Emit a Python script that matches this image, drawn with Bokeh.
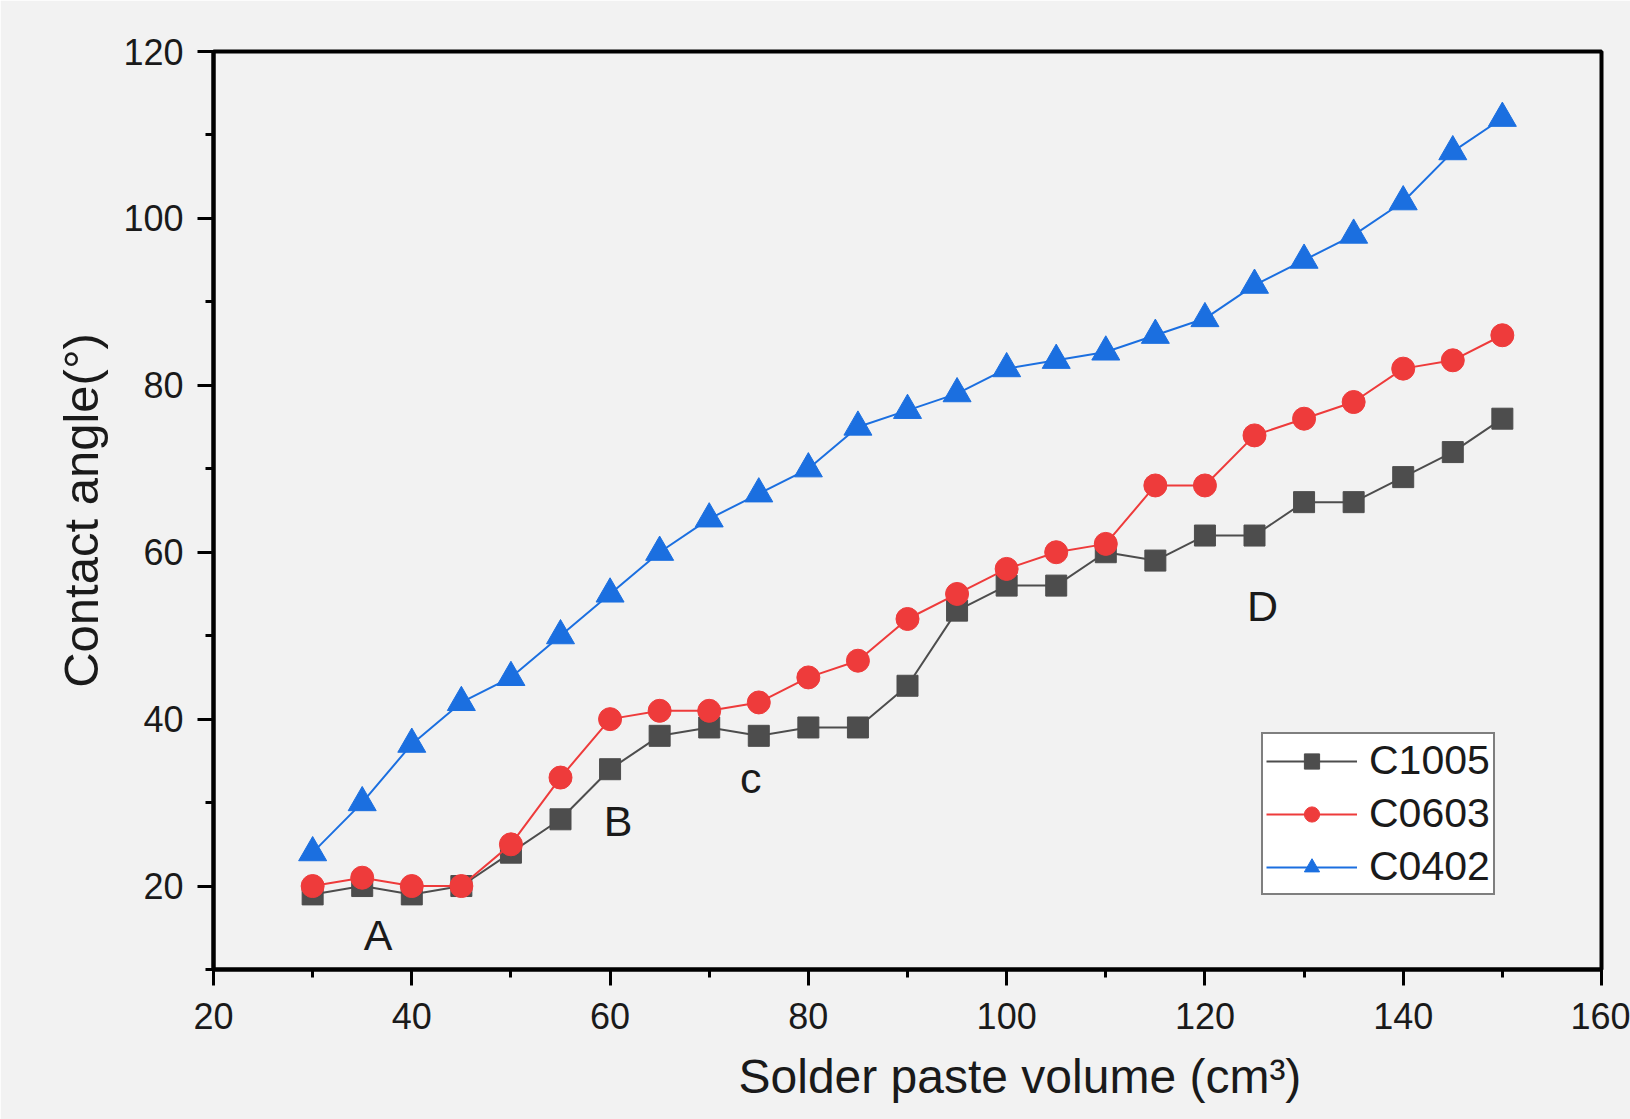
from bokeh.plotting import figure
from bokeh.models import SingleIntervalTicker, Legend, LegendItem, Range1d, ColumnDataSource, Title
from bokeh.core.properties import value
from bokeh.embed import file_html
from bokeh.resources import INLINE

# ---- data ----
volume = [30, 35, 40, 45, 50, 55, 60, 65, 70, 75, 80, 85, 90, 95, 100,
          105, 110, 115, 120, 125, 130, 135, 140, 145, 150]
c1005 = [19, 20, 19, 20, 24, 28, 34, 38, 39, 38, 39, 39, 44, 53, 56,
         56, 60, 59, 62, 62, 66, 66, 69, 72, 76]
c0603 = [20, 21, 20, 20, 25, 33, 40, 41, 41, 42, 45, 47, 52, 55, 58,
         60, 61, 68, 68, 74, 76, 78, 82, 83, 86]
c0402 = [24, 30, 37, 42, 45, 50, 55, 60, 64, 67, 70, 75, 77, 79, 82,
         83, 84, 86, 88, 92, 95, 98, 102, 108, 112]
series_names = ["C1005", "C0603", "C0402"]

region_labels = ["A", "B", "c", "D"]
region_x = [36.6, 60.8, 74.2, 125.8]
region_y = [14.1, 27.8, 33.0, 53.6]

x_title = "Solder paste volume (cm\u00b3)"
y_title = "Contact angle(\u00b0)"

# ---- styles ----
FONT = "Liberation Sans"
BG = "#f2f2f2"
TXT = "#1a1a1a"
colors = ["#4d4d4d", "#ee3b3b", "#1b6fe0"]
markers = ["square", "circle", "triangle"]
sizes = [21, 23, 28]

p = figure(width=1630, height=1119, output_backend="svg", toolbar_location=None,
           x_range=Range1d(20, 160), y_range=Range1d(10, 120),
           min_border_left=213, min_border_right=29,
           min_border_top=51, min_border_bottom=149)
p.background_fill_color = BG
p.border_fill_color = BG
p.outline_line_color = "black"
p.outline_line_width = 4
p.grid.visible = False

p.xaxis.ticker = SingleIntervalTicker(interval=20, num_minor_ticks=2)
p.yaxis.ticker = SingleIntervalTicker(interval=20, num_minor_ticks=2)
for ax in (p.xaxis, p.yaxis):
    ax.axis_line_width = 4
    ax.axis_line_color = "black"
    ax.major_tick_line_width = 3
    ax.minor_tick_line_width = 3
    ax.major_tick_out = 16
    ax.major_tick_in = 0
    ax.minor_tick_out = 8
    ax.minor_tick_in = 0
    ax.major_label_text_font = FONT
    ax.major_label_text_font_size = "36px"
    ax.major_label_text_color = TXT
p.xaxis.major_label_standoff = 17
p.yaxis.major_label_standoff = 14

p.yaxis.axis_label = y_title
p.yaxis.axis_label_text_font = FONT
p.yaxis.axis_label_text_font_size = "49px"
p.yaxis.axis_label_text_font_style = "normal"
p.yaxis.axis_label_text_color = TXT
p.yaxis.axis_label_standoff = 12

# x title sits right of centre in the reference
p.add_layout(Title(text=x_title, align="left", offset=525, standoff=33,
                   text_font=FONT, text_font_size="48px", text_font_style="normal",
                   text_color=TXT), "below")

items = []
for name, ys, col, mk, sz in zip(series_names, [c1005, c0603, c0402], colors, markers, sizes):
    src = ColumnDataSource(dict(x=volume, y=ys))
    ln = p.line("x", "y", source=src, line_color=col, line_width=2)
    sc = p.scatter("x", "y", source=src, marker=mk, size=sz, fill_color=col, line_color=col)
    items.append(LegendItem(label=name, renderers=[ln, sc]))

lab_src = ColumnDataSource(dict(x=region_x, y=region_y, t=region_labels))
p.text("x", "y", text="t", source=lab_src, text_font=value(FONT), text_font_size="43px",
       text_align="center", text_baseline="middle", text_color=TXT)

legend = Legend(items=items, location=(1048, 74))
legend.label_text_font = FONT
legend.label_text_font_size = "41px"
legend.label_text_color = TXT
legend.glyph_width = 91
legend.glyph_height = 38
legend.label_height = 38
legend.label_standoff = 12
legend.spacing = 6
legend.padding = 3
legend.margin = 0
legend.border_line_color = "black"
legend.border_line_width = 2
legend.background_fill_color = "white"
legend.background_fill_alpha = 1
p.add_layout(legend, "center")

open("out.html", "w").write(file_html(p, INLINE))
